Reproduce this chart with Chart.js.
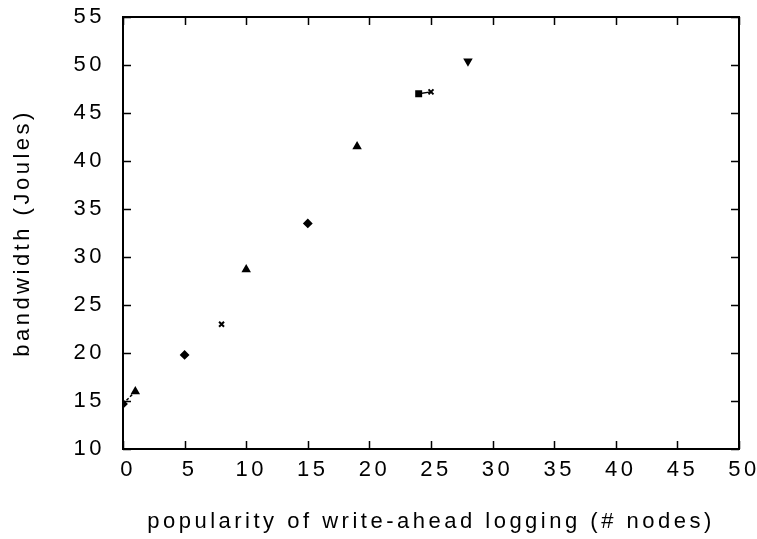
<!DOCTYPE html>
<html>
<head>
<meta charset="utf-8">
<script src="https://cdn.jsdelivr.net/npm/chart.js@4.4.1/dist/chart.umd.min.js"></script>
<style>
  html, body { margin: 0; padding: 0; background: #fff; }
  canvas { display: block; }
</style>
</head>
<body>
<canvas id="c" width="757" height="539"></canvas>
<script>
// valores
var nodes = [0, 1, 5, 8, 10, 15, 19, 24, 25, 28];
var joules = [14.7, 16.0, 19.8, 23.0, 28.7, 33.5, 41.5, 47.0, 47.2, 50.4];
var markers = ['rectRot', 'triangle', 'rectRot', 'crossRot', 'triangle', 'rectRot', 'triangle', 'rect', 'crossRot', 'triangle'];
var xTicks = [0, 5, 10, 15, 20, 25, 30, 35, 40, 45, 50];
var yTicks = [10, 15, 20, 25, 30, 35, 40, 45, 50, 55];

var FONT = { family: 'Liberation Sans, Arial, sans-serif', size: 22 };
var SPACING = '3.5px';

// texto espaçado como na figura original
var spacingPlugin = {
  id: 'spacing',
  beforeLayout: function (chart) { chart.ctx.letterSpacing = SPACING; },
  beforeDraw: function (chart) { chart.ctx.letterSpacing = SPACING; }
};

// moldura com marcas internas (estilo gnuplot)
var framePlugin = {
  id: 'frame',
  afterDatasetsDraw: function (chart) {
    var a = chart.chartArea, ctx = chart.ctx, xs = chart.scales.x, ys = chart.scales.y;
    ctx.save();
    ctx.strokeStyle = '#000';
    ctx.lineWidth = 2;
    ctx.strokeRect(a.left, a.top, a.right - a.left, a.bottom - a.top);
    ctx.lineWidth = 1.5;
    ctx.beginPath();
    xTicks.forEach(function (v) {
      var px = Math.round(xs.getPixelForValue(v)) + 0.5;
      ctx.moveTo(px, a.bottom); ctx.lineTo(px, a.bottom - 8);
      ctx.moveTo(px, a.top); ctx.lineTo(px, a.top + 8);
    });
    yTicks.forEach(function (v) {
      var py = Math.round(ys.getPixelForValue(v)) + 0.5;
      ctx.moveTo(a.left, py); ctx.lineTo(a.left + 8, py);
      ctx.moveTo(a.right, py); ctx.lineTo(a.right - 8, py);
    });
    ctx.stroke();
    ctx.restore();
  }
};

new Chart(document.getElementById('c').getContext('2d'), {
  type: 'scatter',
  data: {
    datasets: [{
      data: nodes.map(function (x, i) { return { x: x, y: joules[i] }; }),
      showLine: true,
      borderColor: '#000',
      borderWidth: 1.5,
      segment: {
        // só liga os pontos vizinhos (distância de 1 nó)
        borderColor: function (c) { return (c.p1.parsed.x - c.p0.parsed.x) > 1 ? 'rgba(0,0,0,0)' : '#000'; },
        borderDash: function (c) { return c.p0DataIndex === 0 ? [3, 2] : []; }
      },
      pointStyle: markers,
      rotation: [0, 0, 0, 0, 0, 0, 0, 0, 0, 180],
      pointRadius: 3.5,
      pointBackgroundColor: '#000',
      pointBorderColor: '#000',
      pointBorderWidth: 2
    }]
  },
  options: {
    responsive: false,
    animation: false,
    layout: { padding: { top: 17, right: 18, left: 0, bottom: 4 } },
    plugins: { legend: { display: false }, tooltip: { enabled: false } },
    scales: {
      x: {
        type: 'linear', min: 0, max: 50,
        afterBuildTicks: function (s) { s.ticks = xTicks.map(function (v) { return { value: v }; }); },
        afterFit: function (s) { s.height = 86; s.paddingLeft = 0; s.paddingRight = 0; },
        grid: { display: false, drawTicks: false },
        border: { display: false },
        ticks: { color: '#000', font: FONT, padding: 8, labelOffset: 5, maxRotation: 0 },
        title: { display: true, text: 'popularity of write-ahead logging (# nodes)', color: '#000', font: FONT, padding: { top: 14, bottom: 0 } }
      },
      y: {
        type: 'linear', min: 10, max: 55,
        afterBuildTicks: function (s) { s.ticks = yTicks.map(function (v) { return { value: v }; }); },
        afterFit: function (s) { s.width = 123; s.paddingTop = 0; s.paddingBottom = 0; },
        grid: { display: false, drawTicks: false },
        border: { display: false },
        ticks: { color: '#000', font: FONT, padding: 18 },
        title: { display: true, text: 'bandwidth (Joules)', color: '#000', font: FONT, padding: { top: 10, bottom: 0 } }
      }
    }
  },
  plugins: [spacingPlugin, framePlugin]
});
</script>
</body>
</html>
